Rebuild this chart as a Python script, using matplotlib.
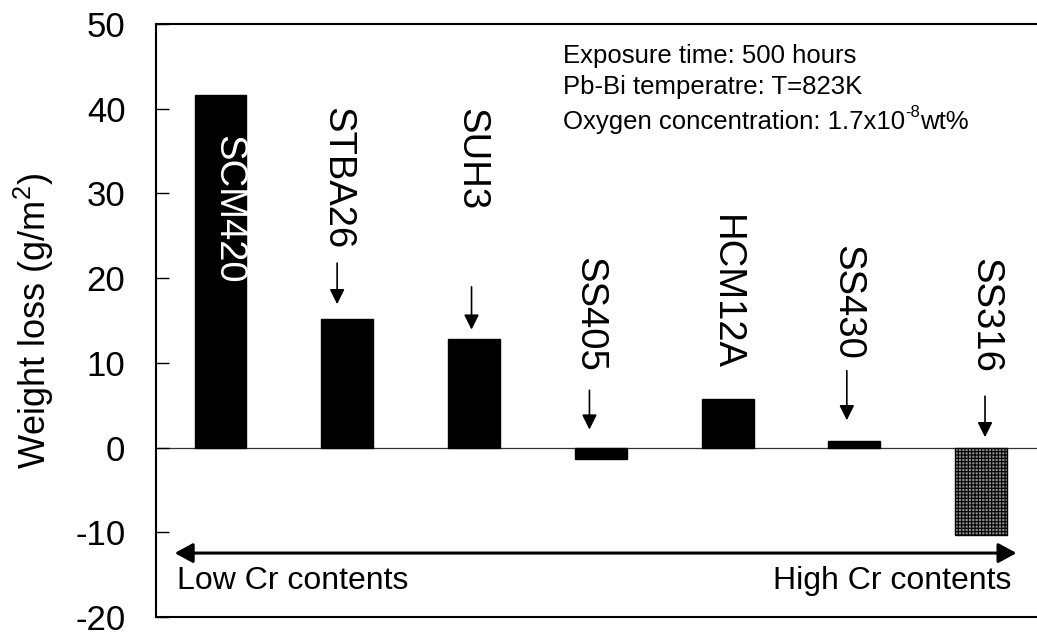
import numpy as np
import matplotlib.pyplot as plt

plt.rcParams['font.family'] = ['Liberation Sans', 'DejaVu Sans']
plt.rcParams['mathtext.default'] = 'regular'
plt.rcParams['axes.unicode_minus'] = False
plt.rcParams['hatch.linewidth'] = 0.8

# data
steels = ['SCM420', 'STBA26', 'SUH3', 'SS405', 'HCM12A', 'SS430', 'SS316']
weight_loss = [41.6, 15.2, 12.8, -1.35, 5.7, 0.8, -10.3]

# label placement (x offset from bar centre, y of label top) and arrows (tail, head)
label_pos = [(0.06, 36.9), (-0.08, 40.2), (-0.02, 40.1), (-0.09, 22.5),
             (-0.01, 27.4), (-0.06, 23.9), (0.03, 22.4)]
arrow_ends = {1: (22.1, 16.6), 2: (19.3, 13.6), 3: (7.1, 1.8),
              5: (9.4, 2.9), 6: (6.4, 0.9)}

x = np.arange(len(steels))

fig = plt.figure(figsize=(10.37, 6.35), dpi=100)
ax = fig.add_axes([0.1504, 0.0283, 0.8496, 0.9339])

colors = ['black'] * 6 + ['#8a8a8a']
bars = ax.bar(x, weight_loss, width=0.41, color=colors, edgecolor='black', linewidth=1, zorder=2)
bars[-1].set_hatch('+++++')

ax.axhline(0, color='#333333', linewidth=0.9, zorder=1)

ax.set_xlim(-0.509, 6.44)
ax.set_ylim(-20, 50)
ax.set_yticks(np.arange(-20, 51, 10))
ax.set_xticks([])
ax.tick_params(axis='y', direction='in', length=9.5, width=1, labelsize=25, pad=22)
ax.spines['right'].set_visible(False)
for s in ['left', 'top', 'bottom']:
    ax.spines[s].set_linewidth(1.5)

ax.set_ylabel('Weight loss (g/m$^{2}$)', fontsize=26)
ax.yaxis.set_label_coords(-0.113, 0.5)

# rotated steel names
for i, name in enumerate(steels):
    dx, top = label_pos[i]
    ax.text(x[i] + dx, top, name, rotation=-90, ha='center', va='top', fontsize=27.5,
            color='white' if i == 0 else 'black', zorder=3)

for i, (tail, head) in arrow_ends.items():
    xa = x[i] + label_pos[i][0]
    ax.annotate('', xy=(xa, head), xytext=(xa, tail),
                arrowprops=dict(arrowstyle='-|>,head_length=0.6,head_width=0.3',
                                color='black', lw=1.2, mutation_scale=15))

# Cr content arrow
ax.annotate('', xy=(6.30, -12.45), xytext=(-0.383, -12.45),
            arrowprops=dict(arrowstyle='<|-|>,head_length=0.55,head_width=0.3',
                            color='black', lw=2.2, mutation_scale=20))
ax.text(-0.345, -15.7, 'Low Cr contents', fontsize=23, ha='left', va='center')
ax.text(6.235, -15.7, 'High Cr contents', fontsize=23, ha='right', va='center')

# conditions
ax.text(0.462, 0.946, 'Exposure time: 500 hours', transform=ax.transAxes,
        fontsize=18.5, ha='left', va='center')
ax.text(0.462, 0.894, 'Pb-Bi temperatre: T=823K', transform=ax.transAxes,
        fontsize=18.5, ha='left', va='center')
t1 = ax.text(0.462, 0.834, 'Oxygen concentration: 1.7x10', transform=ax.transAxes,
             fontsize=18.5, ha='left', va='center')
t2 = ax.annotate('-8', xy=(1, 0.62), xycoords=t1, fontsize=12, ha='left', va='bottom')
ax.annotate('wt%', xy=(1, 0), xycoords=(t2, t1), fontsize=18.5, ha='left', va='bottom')

fig.savefig('out.png', dpi=100)
